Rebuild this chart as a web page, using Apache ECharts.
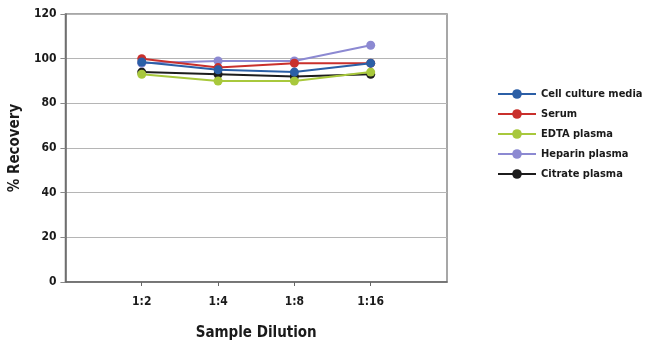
<!DOCTYPE html>
<html><head><meta charset="utf-8">
<script src="https://cdn.jsdelivr.net/npm/echarts@6/dist/echarts.min.js"></script>
<style>html,body{margin:0;padding:0;background:#fff}#c{width:650px;height:350px}</style>
</head><body><div id="c"></div>
<script>
var categories = ['1:2', '1:4', '1:8', '1:16'];
var seriesNames = ['Cell culture media', 'Serum', 'EDTA plasma', 'Heparin plasma', 'Citrate plasma'];
var cellCulture = [98.5, 95, 94, 98];
var serum = [100, 96, 98, 98];
var edta = [93, 90, 90, 94];
var heparin = [98, 99, 99, 106];
var citrate = [94, 93, 92, 93];
var yTicks = [0, 20, 40, 60, 80, 100, 120];
var colors = ['#2b5fa6', '#c9302c', '#a8c83c', '#8c89d2', '#1c1c1c'];

var FONT = "'DejaVu Sans Condensed', 'Liberation Sans', sans-serif";
var values = [cellCulture, serum, edta, heparin, citrate];
var series = seriesNames.map(function (n, i) {
  return {
    name: n, type: 'line', symbol: 'circle', symbolSize: 9,
    lineStyle: { width: 2, color: colors[i] },
    itemStyle: { color: colors[i] },
    data: values[i].map(function (v, j) { return [j + 1, v]; }),
    z: 10 - i
  };
});
var chart = echarts.init(document.getElementById('c'));
chart.setOption({
  animation: false,
  grid: { left: 64, top: 14, right: 203, bottom: 68, show: true, borderColor: '#8a8a8a', borderWidth: 1.5 },
  legend: {
    orient: 'vertical', left: 492, top: 83, itemWidth: 38, itemHeight: 12, itemGap: 8,
    data: seriesNames,
    textStyle: { fontFamily: FONT, fontWeight: 'bold', fontSize: 11, lineHeight: 12, color: '#1a1a1a' }
  },
  xAxis: {
    type: 'value', min: 0, max: 5, interval: 1,
    name: 'Sample Dilution', nameLocation: 'middle', nameGap: 44,
    nameTextStyle: { fontFamily: FONT, fontWeight: 'bold', fontSize: 15, color: '#1a1a1a' },
    axisLine: { lineStyle: { color: '#666', width: 1.5 } },
    axisTick: { customValues: [1, 2, 3, 4], length: 4, lineStyle: { color: '#666' } },
    axisLabel: {
      customValues: [1, 2, 3, 4], margin: 14,
      formatter: function (v) { return categories[v - 1] || ''; },
      fontFamily: FONT, fontWeight: 'bold', fontSize: 12, color: '#1a1a1a'
    },
    splitLine: { show: false }
  },
  yAxis: {
    type: 'value', min: 0, max: 120, interval: 20,
    name: '% Recovery', nameLocation: 'middle', nameGap: 40,
    nameTextStyle: { fontFamily: FONT, fontWeight: 'bold', fontSize: 15, color: '#1a1a1a' },
    axisLine: { show: true, lineStyle: { color: '#666', width: 1.5 } },
    axisTick: { show: true, inside: false, length: 5, lineStyle: { color: '#888' } },
    axisLabel: {
      margin: 9, fontFamily: FONT, fontWeight: 'bold', fontSize: 12, color: '#1a1a1a',
      formatter: function (v) { return yTicks.indexOf(v) >= 0 ? String(v) : ''; }
    },
    splitLine: { show: true, lineStyle: { color: '#b5b5b5', width: 1.2 } }
  },
  series: series
});
</script></body></html>
